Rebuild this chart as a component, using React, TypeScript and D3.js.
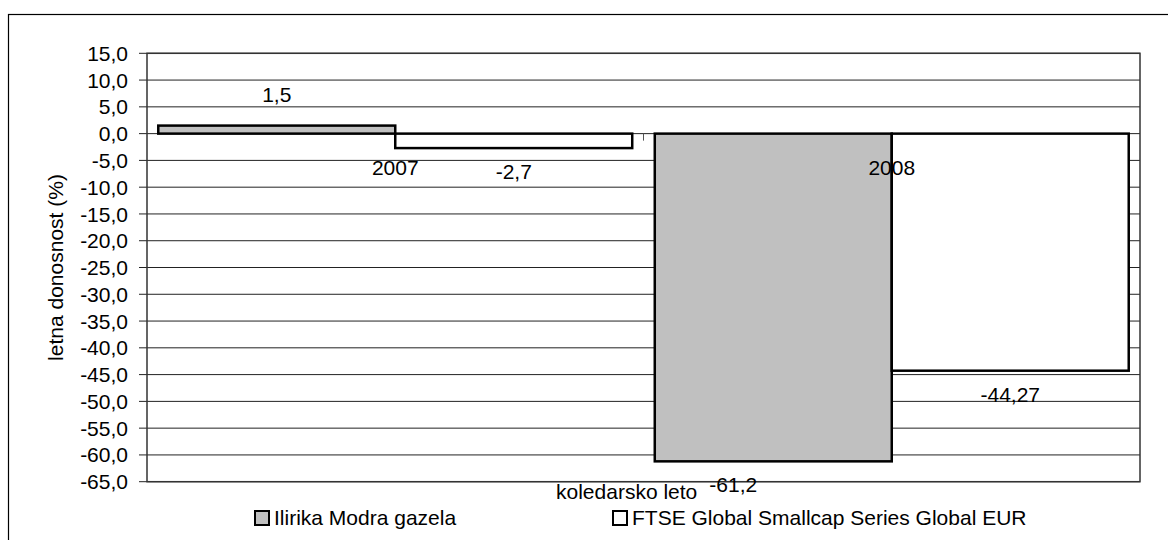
import React, { useEffect, useRef } from 'react';
import * as d3 from 'd3';

const years = ['2007', '2008'];
const seriesNames = ['Ilirika Modra gazela', 'FTSE Global Smallcap Series Global EUR'];
const gazela = [1.5, -61.2];
const ftse = [-2.7, -44.27];
const gazelaLabels = ['1,5', '-61,2'];
const ftseLabels = ['-2,7', '-44,27'];
const yTicks = [15, 10, 5, 0, -5, -10, -15, -20, -25, -30, -35, -40, -45, -50, -55, -60, -65];

const W = 1168;
const H = 540;
const FONT = '"Liberation Sans", Arial, sans-serif';
const fmt = (v: number) => v.toFixed(1).replace('.', ',');

const App: React.FC = () => {
  const svgRef = useRef<SVGSVGElement | null>(null);

  useEffect(() => {
    if (!svgRef.current) return;
    const svg = d3.select(svgRef.current);
    svg.selectAll('*').remove();

    const plot = { left: 147, right: 1140, top: 53.3, bottom: 481.7 };

    const y = d3.scaleLinear().domain([-65, 15]).range([plot.bottom, plot.top]);
    const x0 = d3.scaleBand().domain(years).range([plot.left, plot.right]);
    const gap = x0.bandwidth() * 0.0227;
    const x1 = d3
      .scaleBand()
      .domain(['g', 'f'])
      .range([gap, x0.bandwidth() - gap]);

    // outer chart border (runs off the picture at right and bottom)
    svg
      .append('rect')
      .attr('x', 8.5)
      .attr('y', 14.5)
      .attr('width', 1300)
      .attr('height', 700)
      .attr('fill', 'none')
      .attr('stroke', '#000')
      .attr('stroke-width', 1.2);

    // gridlines + tick marks
    svg
      .append('g')
      .selectAll('line')
      .data(yTicks)
      .enter()
      .append('line')
      .attr('x1', plot.left - 8)
      .attr('x2', plot.right)
      .attr('y1', (d) => y(d))
      .attr('y2', (d) => y(d))
      .attr('stroke', '#222')
      .attr('stroke-width', 1);

    // y tick labels
    svg
      .append('g')
      .selectAll('text')
      .data(yTicks)
      .enter()
      .append('text')
      .attr('x', 128)
      .attr('y', (d) => y(d))
      .attr('dy', '0.36em')
      .attr('text-anchor', 'end')
      .attr('font-family', FONT)
      .attr('font-size', 21)
      .text((d) => fmt(d));

    // plot frame
    svg
      .append('rect')
      .attr('x', plot.left)
      .attr('y', plot.top)
      .attr('width', plot.right - plot.left)
      .attr('height', plot.bottom - plot.top)
      .attr('fill', 'none')
      .attr('stroke', '#333')
      .attr('stroke-width', 1.5);

    // category tick between years at the zero line
    svg
      .append('g')
      .selectAll('line')
      .data(years.slice(1))
      .enter()
      .append('line')
      .attr('x1', (d) => x0(d)!)
      .attr('x2', (d) => x0(d)!)
      .attr('y1', y(0))
      .attr('y2', y(0) + 7)
      .attr('stroke', '#555')
      .attr('stroke-width', 1);

    const rows = years.map((yr, i) => [
      { yr, key: 'g', v: gazela[i], label: gazelaLabels[i], fill: '#c0c0c0' },
      { yr, key: 'f', v: ftse[i], label: ftseLabels[i], fill: '#ffffff' },
    ]).flat();

    // bars
    svg
      .append('g')
      .selectAll('rect')
      .data(rows)
      .enter()
      .append('rect')
      .attr('x', (d) => x0(d.yr)! + x1(d.key)!)
      .attr('y', (d) => y(Math.max(0, d.v)))
      .attr('width', x1.bandwidth())
      .attr('height', (d) => Math.abs(y(d.v) - y(0)))
      .attr('fill', (d) => d.fill)
      .attr('stroke', '#000')
      .attr('stroke-width', 2.5);

    // data labels (the -61,2 label was dragged left in the original)
    svg
      .append('g')
      .selectAll('text')
      .data(rows)
      .enter()
      .append('text')
      .attr('x', (d) => x0(d.yr)! + x1(d.key)! + x1.bandwidth() / 2 + (d.label === '-61,2' ? -40 : 0))
      .attr('y', (d) => (d.v >= 0 ? y(d.v) - 24 : y(d.v) + 31))
      .attr('text-anchor', 'middle')
      .attr('font-family', FONT)
      .attr('font-size', 21)
      .text((d) => d.label);

    // category labels
    svg
      .append('g')
      .selectAll('text')
      .data(years)
      .enter()
      .append('text')
      .attr('x', (d) => x0(d)! + x0.bandwidth() / 2)
      .attr('y', y(0) + 41)
      .attr('text-anchor', 'middle')
      .attr('font-family', FONT)
      .attr('font-size', 21)
      .text((d) => d);

    // axis titles
    svg
      .append('text')
      .attr('transform', `translate(${63},${(plot.top + plot.bottom) / 2}) rotate(-90)`)
      .attr('text-anchor', 'middle')
      .attr('font-family', FONT)
      .attr('font-size', 21)
      .text('letna donosnost (%)');

    svg
      .append('text')
      .attr('x', 556)
      .attr('y', 499)
      .attr('font-family', FONT)
      .attr('font-size', 21)
      .text('koledarsko leto');

    // legend
    const legendX = [255, 613];
    const legendFill = ['#c0c0c0', '#ffffff'];
    const lg = svg
      .append('g')
      .selectAll('g')
      .data(seriesNames)
      .enter()
      .append('g')
      .attr('transform', (_d, i) => `translate(${legendX[i]},${511})`);
    lg.append('rect')
      .attr('width', 14)
      .attr('height', 14)
      .attr('fill', (_d, i) => legendFill[i])
      .attr('stroke', '#000')
      .attr('stroke-width', 2);
    lg.append('text')
      .attr('x', 19)
      .attr('y', 14)
      .attr('font-family', FONT)
      .attr('font-size', 21)
      .text((d) => d);
  }, []);

  return (
    <svg
      ref={svgRef}
      width={W}
      height={H}
      style={{ position: 'absolute', left: 0, top: 0, background: '#fff' }}
    />
  );
};

export default App;
